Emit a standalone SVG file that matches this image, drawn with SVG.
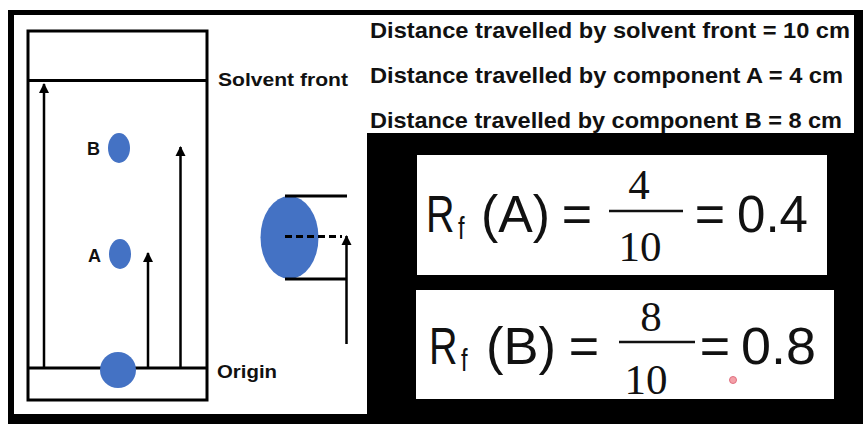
<svg xmlns="http://www.w3.org/2000/svg" width="863" height="424" viewBox="0 0 863 424">
<defs>
<style>
.ln{stroke:#000;stroke-width:3;fill:none}
.ar{stroke:#000;stroke-width:2.5;fill:none}
.spot{fill:#4472C4}
.lbl{font-family:"Liberation Sans",Arial,sans-serif;font-weight:bold;font-size:18px;fill:#111}
.dist{font-family:"Liberation Sans",Arial,sans-serif;font-weight:bold;font-size:22px;fill:#111}
.big{font-family:"Liberation Sans",Arial,sans-serif;font-size:52px;fill:#111}
.frac{font-family:"Liberation Serif","Times New Roman",serif;font-size:43px;fill:#111;text-anchor:middle}
.box{fill:#fff}
</style>
<marker id="ah" viewBox="0 0 10 10" refX="9" refY="5" markerWidth="4" markerHeight="4.4" orient="auto" markerUnits="strokeWidth">
<path d="M0,0 L10,5 L0,10 z" fill="#000"/>
</marker>
</defs>
<rect x="0" y="0" width="863" height="424" fill="#fff"/>
<rect x="8" y="10" width="855" height="414" fill="#000"/>
<rect x="14" y="15" width="353" height="399" fill="#fff"/>
<rect x="365" y="15" width="489" height="118" fill="#fff"/>

<g id="plate">
<rect x="28" y="31" width="179" height="369" class="ln" stroke-width="3.5"/>
<line x1="28" y1="80.5" x2="207" y2="80.5" class="ln"/>
<line x1="28" y1="368" x2="207" y2="368" class="ln"/>
</g>

<g id="zoom-spot">
<ellipse cx="289.5" cy="237.5" rx="29" ry="41.5" class="spot"/>
</g>

<g id="connectors">
<line x1="44" y1="368" x2="44" y2="84" class="ar" marker-end="url(#ah)"/>
<line x1="148" y1="368" x2="148" y2="253" class="ar" marker-end="url(#ah)"/>
<line x1="180.5" y1="368" x2="180.5" y2="147" class="ar" marker-end="url(#ah)"/>
<line x1="346.5" y1="344" x2="346.5" y2="236" class="ar" marker-end="url(#ah)"/>
<line x1="285" y1="196" x2="347" y2="196" class="ln"/>
<line x1="285" y1="279" x2="347" y2="279" class="ln"/>
<line x1="285" y1="236.5" x2="342" y2="236.5" class="ln" stroke-dasharray="7 4"/>
</g>

<g id="spot-B">
<ellipse cx="119" cy="148" rx="11" ry="15" class="spot"/>
<text x="87" y="155" class="lbl">B</text>
</g>
<g id="spot-A">
<ellipse cx="120" cy="254" rx="11" ry="15" class="spot"/>
<text x="88" y="262" class="lbl">A</text>
</g>
<g id="spot-origin">
<circle cx="118" cy="370" r="18" class="spot"/>
</g>
<g id="label-solvent">
<text x="218" y="86" class="lbl" textLength="130" lengthAdjust="spacingAndGlyphs">Solvent front</text>
</g>
<g id="label-origin">
<text x="217" y="378" class="lbl" textLength="60" lengthAdjust="spacingAndGlyphs">Origin</text>
</g>

<g id="distances">
<text x="370" y="38" class="dist" textLength="480" lengthAdjust="spacingAndGlyphs">Distance travelled by solvent front = 10 cm</text>
<text x="370" y="83" class="dist" textLength="473" lengthAdjust="spacingAndGlyphs">Distance travelled by component A = 4 cm</text>
<text x="370" y="128" class="dist" textLength="472" lengthAdjust="spacingAndGlyphs">Distance travelled by component B = 8 cm</text>
</g>

<g id="rf-A">
<rect x="417" y="155" width="410" height="120" class="box"/>
<text class="big" transform="translate(426,232) scale(0.76,1)">R<tspan x="42" dy="7" font-size="31">f</tspan></text>
<text x="481" y="232" class="big" textLength="69" lengthAdjust="spacingAndGlyphs">(A)</text>
<text x="577" y="232" class="big" text-anchor="middle">=</text>
<line x1="609" y1="211" x2="683" y2="211" stroke="#111" stroke-width="2.5"/>
<text x="639" y="199" class="frac">4</text>
<text x="640" y="261" class="frac">10</text>
<text x="710" y="232" class="big" text-anchor="middle">=</text>
<text x="737" y="232" class="big" textLength="71" lengthAdjust="spacingAndGlyphs">0.4</text>
</g>

<g id="rf-B">
<rect x="416" y="290" width="418" height="109" class="box"/>
<text class="big" transform="translate(429,364) scale(0.76,1)">R<tspan x="42" dy="7" font-size="31">f</tspan></text>
<text x="486" y="364" class="big" textLength="70" lengthAdjust="spacingAndGlyphs">(B)</text>
<text x="584" y="364" class="big" text-anchor="middle">=</text>
<line x1="619" y1="342" x2="695" y2="342" stroke="#111" stroke-width="2.5"/>
<text x="651" y="331" class="frac">8</text>
<text x="646" y="394" class="frac">10</text>
<text x="715" y="364" class="big" text-anchor="middle">=</text>
<text x="741" y="364" class="big" textLength="75" lengthAdjust="spacingAndGlyphs">0.8</text>
<circle cx="733" cy="380" r="3.5" fill="#f4a0a8" stroke="#e07080" stroke-width="1"/>
</g>
</svg>
